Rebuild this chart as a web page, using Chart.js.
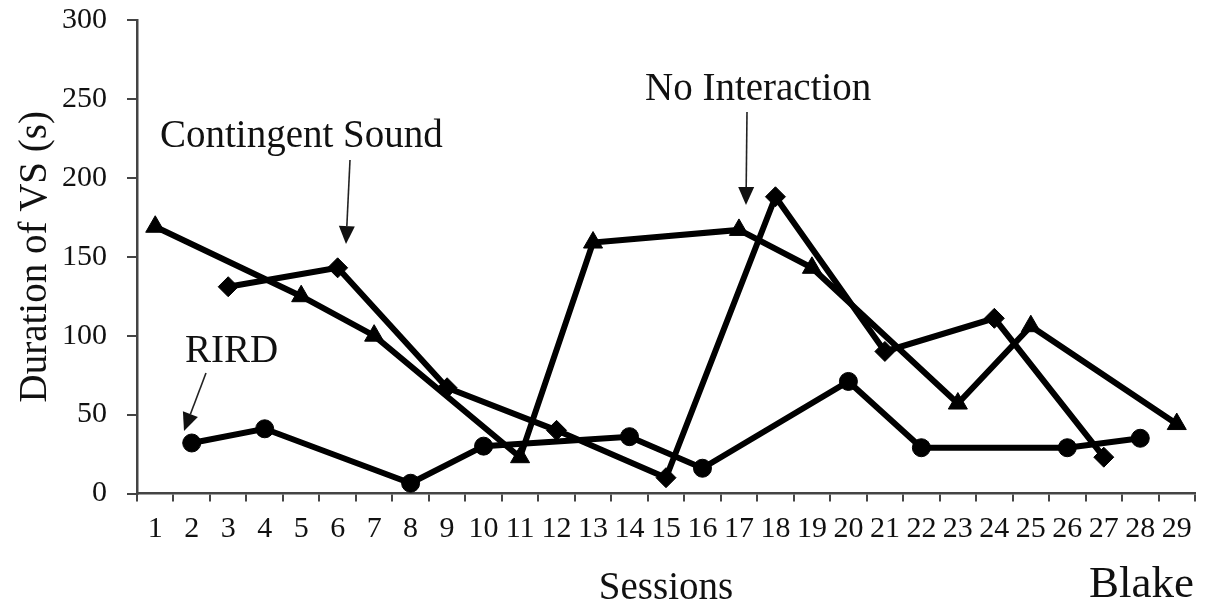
<!DOCTYPE html>
<html>
<head>
<meta charset="utf-8">
<script src="https://cdn.jsdelivr.net/npm/chart.js@4.4.0/dist/chart.umd.min.js"></script>
<style>
  html, body { margin: 0; padding: 0; background: #fff; }
  #wrap { width: 1207px; height: 609px; }
</style>
</head>
<body>
<div id="wrap"><canvas id="c" width="1207" height="609"></canvas></div>
<script>
// sessions along the x axis
const sessions = ["1","2","3","4","5","6","7","8","9","10","11","12","13","14","15",
  "16","17","18","19","20","21","22","23","24","25","26","27","28","29"];

// duration of VS (s) per session, null = no session in that condition
const rird = [null,32,null,41,null,null,null,6.5,null,30,null,null,null,36,null,
  16,null,null,null,71,null,29,null,null,null,29,null,35,null];
const contingentSound = [null,null,131,null,null,143,null,null,67,null,null,40,null,null,10,
  null,null,188,null,null,90,null,null,111,null,null,23,null,null];
const noInteraction = [169,null,null,null,125,null,100,null,null,null,23,null,159,null,null,
  null,167,null,143,null,null,null,57,null,106,null,null,null,44];

const yTicks = [0, 50, 100, 150, 200, 250, 300];

const serif = "'Liberation Serif', 'Times New Roman', serif";
const axisGrey = "#444";

// text labels + arrows drawn on top of the chart
const notes = {
  id: "notes",
  afterDraw(chart) {
    const ctx = chart.ctx;
    ctx.save();
    ctx.fillStyle = "#111";
    ctx.textBaseline = "alphabetic";
    ctx.textAlign = "left";
    ctx.font = "39px " + serif;
    ctx.fillText("Contingent Sound", 160, 147);
    ctx.fillText("No Interaction", 645, 100);
    ctx.fillText("RIRD", 185, 362);
    ctx.font = "45px " + serif;
    ctx.textAlign = "right";
    ctx.fillText("Blake", 1194, 597);

    const arrow = (x1, y1, x2, y2) => {
      const a = Math.atan2(y2 - y1, x2 - x1);
      const len = 18, half = 8;
      const bx = x2 - Math.cos(a) * len, by = y2 - Math.sin(a) * len;
      ctx.strokeStyle = "#222";
      ctx.lineWidth = 1.6;
      ctx.beginPath();
      ctx.moveTo(x1, y1);
      ctx.lineTo(bx, by);
      ctx.stroke();
      ctx.fillStyle = "#111";
      ctx.beginPath();
      ctx.moveTo(x2, y2);
      ctx.lineTo(bx + Math.sin(a) * half, by - Math.cos(a) * half);
      ctx.lineTo(bx - Math.sin(a) * half, by + Math.cos(a) * half);
      ctx.closePath();
      ctx.fill();
    };
    arrow(350, 160, 346, 244);
    arrow(747, 112, 746, 205);
    arrow(206, 373, 184, 431);
    ctx.restore();
  }
};

const line = (data, style, radius) => ({
  data: data,
  spanGaps: true,
  borderColor: "#000",
  backgroundColor: "#000",
  borderWidth: 6,
  pointStyle: style,
  pointRadius: radius,
  pointBorderWidth: 1,
  pointBackgroundColor: "#000",
  pointBorderColor: "#000",
  tension: 0
});

new Chart(document.getElementById("c"), {
  type: "line",
  data: {
    labels: sessions,
    datasets: [
      line(rird, "circle", 9),
      line(contingentSound, "rectRot", 10),
      line(noInteraction, "triangle", 11)
    ]
  },
  options: {
    responsive: false,
    animation: false,
    layout: { padding: { top: 20, right: 8, left: 0, bottom: 0 } },
    plugins: { legend: { display: false }, tooltip: { enabled: false } },
    scales: {
      x: {
        offset: true,
        grid: { offset: true, drawOnChartArea: false, tickLength: 8, color: axisGrey, lineWidth: 2 },
        border: { color: axisGrey, width: 2.5 },
        ticks: { autoSkip: false, maxRotation: 0, minRotation: 0, padding: 10, color: "#111",
                 font: { family: serif, size: 30 } },
        title: { display: true, text: "Sessions", color: "#111", padding: { top: 0, bottom: -3 },
                 font: { family: serif, size: 39 } },
        afterFit(scale) {
          scale.height = 115.5;
          scale.paddingLeft = 0;
          scale.paddingRight = 0;
        }
      },
      y: {
        min: 0,
        max: 300,
        afterBuildTicks(scale) { scale.ticks = yTicks.map(v => ({ value: v })); },
        grid: { drawOnChartArea: false, tickLength: 10, color: axisGrey, lineWidth: 2 },
        border: { color: axisGrey, width: 2.5 },
        ticks: { padding: 20, color: "#111", font: { family: serif, size: 30 } },
        title: { display: true, text: "Duration of VS (s)", color: "#111", padding: { top: 12, bottom: 0 },
                 font: { family: serif, size: 39 } },
        afterFit(scale) {
          scale.width = 137;
          scale.paddingTop = 0;
          scale.paddingBottom = 0;
        }
      }
    }
  },
  plugins: [notes]
});
</script>
</body>
</html>
